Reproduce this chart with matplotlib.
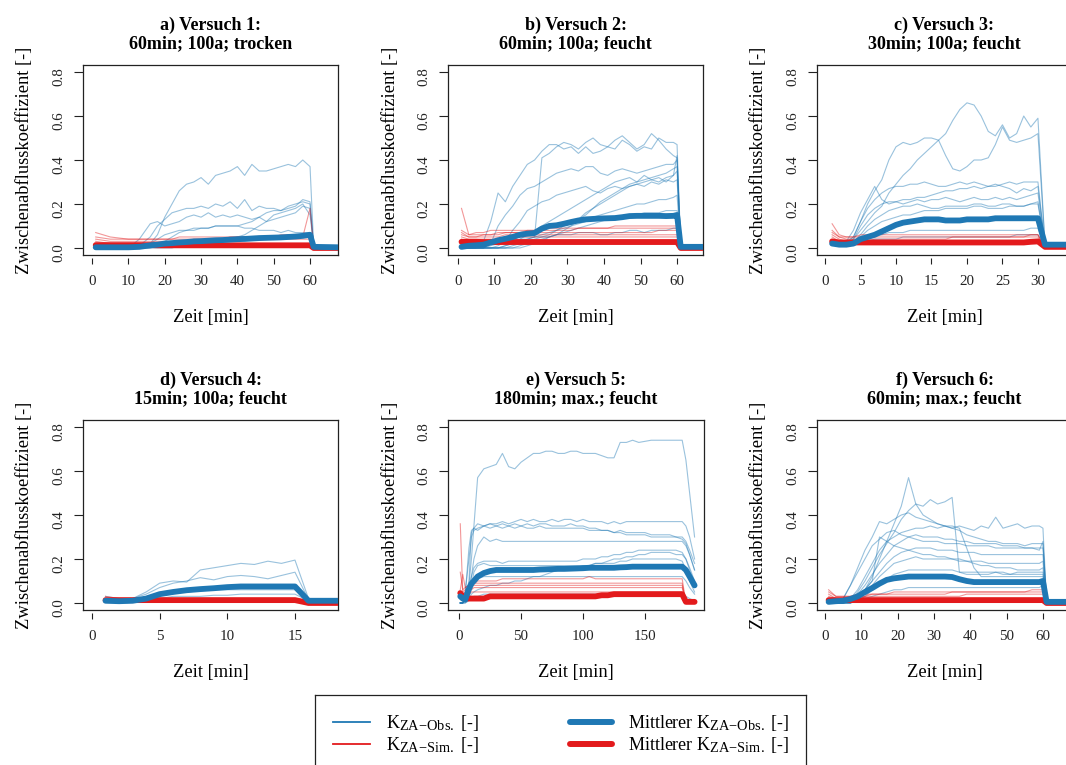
import matplotlib
matplotlib.use('Agg')
import matplotlib.pyplot as plt
from matplotlib.lines import Line2D
try:
    import matplotlib._mathtext as _mt
    _mt.SHRINK_FACTOR = 0.8
except Exception:
    pass

plt.rcParams['font.family'] = ['Liberation Serif', 'DejaVu Serif']
plt.rcParams['mathtext.fontset'] = 'custom'
plt.rcParams['mathtext.rm'] = 'Liberation Serif'
plt.rcParams['mathtext.it'] = 'Liberation Serif:italic'
plt.rcParams['mathtext.bf'] = 'Liberation Serif:bold'

BLUE = '#1F78B4'
RED = '#E31A1C'

# ---------------- data ----------------
titles = ["a) Versuch 1:\n60min; 100a; trocken",
          "b) Versuch 2:\n60min; 100a; feucht",
          "c) Versuch 3:\n30min; 100a; feucht",
          "d) Versuch 4:\n15min; 100a; feucht",
          "e) Versuch 5:\n180min; max.; feucht",
          "f) Versuch 6:\n60min; max.; feucht"]

# Panel a
t_a = [1, 5, 10, 13, 16, 18, 20, 22, 24, 26, 28, 30, 32, 34, 36, 38, 40, 42, 44, 46, 48, 50, 52, 54, 56, 58, 60, 61, 68]
obs_a = [
    [0.00,0.00,0.00,0.00,0.02,0.06,0.14,0.20,0.26,0.29,0.30,0.32,0.29,0.33,0.34,0.35,0.37,0.33,0.38,0.35,0.35,0.36,0.37,0.38,0.37,0.40,0.37,0.01,0.00],
    [0.00,0.00,0.00,0.01,0.05,0.10,0.13,0.16,0.17,0.18,0.18,0.19,0.18,0.20,0.19,0.21,0.18,0.22,0.17,0.19,0.18,0.18,0.17,0.19,0.20,0.21,0.20,0.01,0.00],
    [0.00,0.00,0.00,0.04,0.11,0.12,0.10,0.11,0.12,0.14,0.15,0.14,0.16,0.14,0.15,0.14,0.15,0.14,0.13,0.14,0.12,0.13,0.14,0.15,0.16,0.19,0.18,0.01,0.00],
    [0.00,0.00,0.00,0.00,0.00,0.01,0.03,0.05,0.07,0.08,0.08,0.09,0.09,0.10,0.10,0.10,0.10,0.11,0.12,0.14,0.16,0.17,0.17,0.18,0.19,0.22,0.21,0.01,0.00],
    [0.00,0.00,0.00,0.00,0.02,0.04,0.06,0.07,0.08,0.08,0.09,0.09,0.09,0.10,0.10,0.10,0.10,0.09,0.09,0.08,0.08,0.08,0.07,0.08,0.07,0.07,0.07,0.01,0.00],
    [0.00,0.00,0.00,0.00,0.00,0.00,0.00,0.00,0.01,0.01,0.02,0.02,0.02,0.03,0.03,0.04,0.05,0.06,0.08,0.10,0.12,0.15,0.16,0.17,0.18,0.20,0.15,0.01,0.00],
    [0.00,0.00,0.00,0.00,0.01,0.01,0.02,0.02,0.02,0.03,0.03,0.03,0.03,0.04,0.04,0.04,0.04,0.04,0.05,0.05,0.05,0.05,0.05,0.06,0.06,0.06,0.06,0.01,0.00],
]
sim_a = [
    [0.07,0.05,0.04,0.04,0.04,0.04,0.04,0.04,0.05,0.05,0.05,0.05,0.05,0.05,0.05,0.05,0.05,0.05,0.05,0.05,0.05,0.05,0.06,0.06,0.06,0.06,0.06,0.00,0.00],
    [0.05,0.04,0.04,0.04,0.04,0.04,0.04,0.04,0.04,0.04,0.04,0.04,0.04,0.04,0.04,0.05,0.05,0.05,0.05,0.05,0.05,0.05,0.05,0.05,0.05,0.05,0.18,0.00,0.00],
    [0.04,0.03,0.03,0.03,0.03,0.03,0.03,0.03,0.03,0.03,0.04,0.04,0.04,0.04,0.04,0.04,0.04,0.04,0.04,0.04,0.04,0.04,0.04,0.04,0.04,0.04,0.04,0.00,0.00],
    [0.03,0.02,0.02,0.02,0.02,0.02,0.02,0.02,0.02,0.02,0.02,0.02,0.02,0.02,0.02,0.02,0.02,0.02,0.02,0.02,0.02,0.02,0.02,0.02,0.02,0.02,0.02,0.00,0.00],
    [0.02,0.01,0.01,0.01,0.01,0.01,0.01,0.01,0.01,0.01,0.01,0.01,0.01,0.01,0.01,0.01,0.01,0.01,0.01,0.01,0.01,0.01,0.01,0.01,0.01,0.01,0.01,0.00,0.00],
]
mobs_a = [0.003,0.003,0.003,0.005,0.012,0.015,0.020,0.022,0.025,0.027,0.030,0.031,0.033,0.035,0.036,0.038,0.040,0.041,0.043,0.045,0.046,0.047,0.048,0.050,0.052,0.055,0.060,0.005,0.003]
msim_a = [0.013,0.013,0.013,0.013,0.013,0.012,0.012,0.012,0.012,0.012,0.012,0.012,0.012,0.012,0.012,0.012,0.012,0.012,0.012,0.012,0.012,0.012,0.012,0.012,0.012,0.012,0.012,0.000,0.000]

# Panel b
t_b = [1, 3, 5, 7, 9, 11, 13, 15, 17, 19, 21, 23, 25, 27, 29, 31, 33, 35, 37, 39, 41, 43, 45, 47, 49, 51, 53, 55, 57, 59, 60, 61, 68]
obs_b = [
    [0,0,0,0.03,0.12,0.25,0.21,0.28,0.33,0.38,0.40,0.44,0.47,0.47,0.45,0.46,0.43,0.46,0.43,0.44,0.46,0.45,0.49,0.47,0.44,0.46,0.45,0.50,0.48,0.48,0.47,0.01,0],
    [0,0,0,0,0.02,0.03,0.04,0.05,0.05,0.05,0.05,0.41,0.43,0.46,0.48,0.47,0.45,0.48,0.50,0.47,0.46,0.49,0.51,0.48,0.45,0.47,0.52,0.49,0.45,0.42,0.41,0.01,0],
    [0,0,0,0,0.02,0.10,0.15,0.19,0.24,0.27,0.28,0.30,0.32,0.34,0.35,0.36,0.35,0.37,0.37,0.34,0.33,0.35,0.36,0.35,0.34,0.35,0.36,0.37,0.38,0.38,0.40,0.01,0],
    [0,0,0,0,0,0.01,0.03,0.08,0.12,0.17,0.19,0.21,0.22,0.24,0.25,0.26,0.27,0.28,0.26,0.25,0.27,0.28,0.27,0.28,0.29,0.28,0.30,0.29,0.31,0.30,0.31,0.01,0],
    [0,0,0,0,0,0,0.01,0.02,0.03,0.04,0.05,0.06,0.07,0.08,0.10,0.11,0.13,0.15,0.18,0.21,0.23,0.25,0.27,0.29,0.30,0.31,0.32,0.33,0.34,0.36,0.37,0.01,0],
    [0,0,0,0,0,0,0,0.01,0.02,0.03,0.04,0.05,0.06,0.08,0.09,0.10,0.11,0.12,0.14,0.15,0.16,0.17,0.18,0.19,0.20,0.20,0.21,0.22,0.22,0.23,0.24,0.01,0],
    [0,0,0,0,0,0,0,0,0.01,0.02,0.03,0.04,0.05,0.06,0.07,0.08,0.09,0.10,0.11,0.12,0.13,0.14,0.14,0.15,0.15,0.16,0.16,0.16,0.17,0.17,0.17,0.01,0],
    [0,0,0,0,0.01,0.02,0.03,0.03,0.04,0.04,0.05,0.05,0.05,0.06,0.06,0.06,0.07,0.07,0.07,0.06,0.06,0.07,0.07,0.08,0.08,0.07,0.08,0.08,0.08,0.09,0.09,0.01,0],
    [0,0,0,0,0,0,0,0,0,0.01,0.02,0.03,0.05,0.06,0.08,0.10,0.13,0.16,0.18,0.20,0.22,0.24,0.26,0.28,0.29,0.30,0.31,0.30,0.32,0.33,0.42,0.01,0],
    [0,0,0,0,0,0,0.01,0.02,0.04,0.06,0.08,0.10,0.12,0.14,0.16,0.18,0.20,0.22,0.24,0.26,0.28,0.30,0.31,0.32,0.30,0.33,0.31,0.32,0.30,0.33,0.35,0.01,0],
]
sim_b = [
    [0.18,0.06,0.07,0.07,0.08,0.08,0.08,0.08,0.08,0.08,0.08,0.09,0.09,0.09,0.09,0.09,0.09,0.09,0.09,0.09,0.09,0.10,0.10,0.10,0.10,0.10,0.10,0.10,0.10,0.10,0.10,0,0],
    [0.08,0.06,0.06,0.06,0.06,0.07,0.07,0.07,0.07,0.07,0.07,0.07,0.07,0.07,0.07,0.07,0.07,0.07,0.07,0.07,0.07,0.07,0.07,0.07,0.07,0.07,0.07,0.08,0.08,0.08,0.08,0,0],
    [0.06,0.05,0.05,0.05,0.05,0.05,0.06,0.06,0.06,0.06,0.06,0.06,0.06,0.06,0.06,0.06,0.06,0.06,0.06,0.06,0.06,0.06,0.06,0.06,0.06,0.06,0.06,0.06,0.06,0.06,0.06,0,0],
    [0.05,0.04,0.04,0.04,0.04,0.04,0.04,0.04,0.05,0.05,0.05,0.05,0.05,0.05,0.05,0.05,0.05,0.05,0.05,0.05,0.05,0.05,0.05,0.05,0.05,0.05,0.05,0.05,0.05,0.05,0.05,0,0],
    [0.04,0.03,0.03,0.03,0.03,0.03,0.03,0.03,0.03,0.03,0.03,0.03,0.03,0.03,0.03,0.03,0.03,0.03,0.03,0.03,0.03,0.03,0.03,0.03,0.03,0.03,0.03,0.03,0.03,0.03,0.03,0,0],
    [0.03,0.02,0.02,0.02,0.02,0.02,0.02,0.02,0.02,0.02,0.02,0.02,0.02,0.02,0.02,0.02,0.02,0.02,0.02,0.02,0.02,0.02,0.02,0.02,0.02,0.02,0.02,0.02,0.02,0.02,0.02,0,0],
    [0.07,0.05,0.05,0.06,0.06,0.06,0.07,0.07,0.07,0.08,0.08,0.08,0.08,0.08,0.08,0.08,0.09,0.09,0.09,0.09,0.09,0.09,0.09,0.09,0.09,0.09,0.09,0.09,0.09,0.09,0.09,0,0],
]
mobs_b = [0.005,0.010,0.012,0.015,0.025,0.035,0.042,0.050,0.060,0.065,0.068,0.088,0.100,0.103,0.110,0.118,0.125,0.130,0.132,0.134,0.135,0.136,0.140,0.145,0.146,0.146,0.146,0.146,0.145,0.146,0.150,0.005,0.005]
msim_b = [0.028,0.028,0.028,0.027,0.027,0.027,0.027,0.027,0.027,0.027,0.027,0.027,0.027,0.027,0.027,0.027,0.027,0.027,0.027,0.027,0.027,0.027,0.027,0.027,0.027,0.027,0.027,0.027,0.027,0.027,0.027,0.000,0.000]

# Panel c
t_c = [1, 2, 3, 4, 5, 6, 7, 8, 9, 10, 11, 12, 13, 14, 15, 16, 17, 18, 19, 20, 21, 22, 23, 24, 25, 26, 27, 28, 29, 30, 31, 36]
obs_c = [
    [0.03,0.02,0.02,0.05,0.12,0.20,0.26,0.31,0.40,0.46,0.48,0.47,0.48,0.50,0.50,0.49,0.42,0.36,0.35,0.37,0.40,0.40,0.41,0.47,0.55,0.49,0.48,0.49,0.50,0.52,0.01,0.01],
    [0.02,0.02,0.02,0.04,0.08,0.12,0.16,0.19,0.25,0.29,0.33,0.36,0.40,0.43,0.46,0.49,0.52,0.58,0.63,0.66,0.65,0.60,0.53,0.51,0.56,0.50,0.52,0.60,0.55,0.59,0.01,0.01],
    [0.02,0.02,0.03,0.05,0.12,0.18,0.22,0.25,0.27,0.28,0.28,0.29,0.29,0.30,0.29,0.28,0.28,0.29,0.30,0.29,0.30,0.29,0.28,0.28,0.29,0.30,0.29,0.30,0.30,0.30,0.01,0.01],
    [0.02,0.02,0.02,0.04,0.10,0.15,0.18,0.20,0.21,0.21,0.22,0.22,0.23,0.23,0.24,0.25,0.26,0.26,0.27,0.27,0.28,0.27,0.28,0.29,0.28,0.27,0.25,0.27,0.26,0.28,0.01,0.01],
    [0.03,0.02,0.03,0.08,0.16,0.22,0.28,0.22,0.20,0.21,0.20,0.21,0.22,0.21,0.22,0.22,0.23,0.22,0.21,0.22,0.23,0.22,0.22,0.23,0.22,0.23,0.22,0.23,0.24,0.25,0.01,0.01],
    [0.02,0.02,0.02,0.03,0.06,0.10,0.13,0.15,0.17,0.18,0.19,0.19,0.20,0.19,0.18,0.18,0.19,0.19,0.19,0.19,0.20,0.20,0.19,0.19,0.20,0.20,0.19,0.19,0.20,0.20,0.01,0.01],
    [0.02,0.02,0.02,0.03,0.05,0.08,0.10,0.12,0.13,0.14,0.15,0.15,0.16,0.17,0.17,0.17,0.18,0.18,0.18,0.18,0.19,0.19,0.18,0.18,0.18,0.19,0.19,0.19,0.20,0.21,0.01,0.01],
    [0.02,0.02,0.02,0.03,0.04,0.05,0.06,0.06,0.07,0.07,0.07,0.08,0.08,0.08,0.08,0.08,0.08,0.08,0.08,0.08,0.08,0.08,0.08,0.08,0.08,0.08,0.08,0.08,0.09,0.09,0.01,0.01],
    [0.02,0.02,0.02,0.02,0.03,0.03,0.04,0.04,0.04,0.04,0.05,0.05,0.05,0.05,0.05,0.05,0.05,0.05,0.05,0.05,0.05,0.05,0.05,0.05,0.05,0.05,0.06,0.06,0.06,0.06,0.01,0.01],
]
sim_c = [
    [0.11,0.06,0.05,0.05,0.05,0.05,0.05,0.05,0.05,0.05,0.05,0.05,0.05,0.05,0.05,0.05,0.05,0.05,0.05,0.05,0.05,0.05,0.05,0.05,0.05,0.05,0.05,0.05,0.06,0.06,0.00,0.00],
    [0.08,0.05,0.04,0.04,0.04,0.04,0.04,0.04,0.04,0.04,0.04,0.04,0.04,0.04,0.04,0.04,0.04,0.05,0.05,0.05,0.05,0.05,0.05,0.05,0.05,0.05,0.05,0.05,0.05,0.05,0.00,0.00],
    [0.06,0.04,0.03,0.03,0.03,0.03,0.03,0.03,0.03,0.03,0.03,0.03,0.03,0.03,0.03,0.03,0.03,0.03,0.03,0.03,0.03,0.03,0.03,0.03,0.03,0.03,0.03,0.03,0.03,0.03,0.00,0.00],
    [0.05,0.03,0.02,0.02,0.02,0.02,0.02,0.02,0.02,0.02,0.02,0.02,0.02,0.02,0.02,0.02,0.02,0.02,0.02,0.02,0.02,0.02,0.02,0.02,0.02,0.02,0.02,0.02,0.02,0.02,0.00,0.00],
    [0.07,0.05,0.05,0.05,0.06,0.06,0.06,0.06,0.06,0.06,0.06,0.06,0.06,0.06,0.06,0.06,0.06,0.06,0.06,0.06,0.06,0.06,0.06,0.06,0.06,0.06,0.06,0.06,0.06,0.06,0.00,0.00],
]
mobs_c = [0.020,0.015,0.015,0.020,0.040,0.050,0.060,0.075,0.090,0.105,0.115,0.120,0.125,0.130,0.130,0.130,0.125,0.125,0.125,0.130,0.130,0.130,0.130,0.135,0.135,0.135,0.135,0.135,0.135,0.135,0.015,0.015]
msim_c = [0.030,0.025,0.025,0.025,0.025,0.025,0.025,0.025,0.025,0.025,0.025,0.025,0.025,0.025,0.025,0.025,0.025,0.025,0.025,0.025,0.025,0.025,0.025,0.025,0.025,0.025,0.025,0.025,0.028,0.030,0.005,0.005]

# Panel d
t_d = [1, 2, 3, 4, 5, 6, 7, 8, 9, 10, 11, 12, 13, 14, 15, 16, 17, 19]
obs_d = [
    [0.03,0.02,0.02,0.05,0.09,0.10,0.095,0.15,0.16,0.17,0.18,0.175,0.19,0.18,0.195,0.02,0.01,0.01],
    [0.01,0.01,0.02,0.04,0.07,0.09,0.10,0.115,0.105,0.12,0.125,0.12,0.11,0.125,0.14,0.015,0.01,0.01],
    [0.01,0.01,0.01,0.02,0.04,0.05,0.05,0.055,0.06,0.06,0.06,0.06,0.06,0.06,0.06,0.01,0.01,0.01],
    [0.01,0.01,0.01,0.01,0.02,0.03,0.03,0.03,0.035,0.035,0.04,0.04,0.04,0.04,0.04,0.01,0.01,0.01],
]
sim_d = [
    [0.03,0.02,0.02,0.02,0.02,0.02,0.02,0.02,0.02,0.02,0.02,0.02,0.02,0.02,0.02,0.00,0.00,0.00],
    [0.02,0.015,0.015,0.015,0.015,0.015,0.015,0.015,0.015,0.015,0.015,0.015,0.015,0.015,0.015,0.00,0.00,0.00],
]
mobs_d = [0.010,0.008,0.010,0.020,0.040,0.050,0.058,0.063,0.067,0.072,0.075,0.075,0.075,0.075,0.075,0.010,0.010,0.010]
msim_d = [0.013,0.013,0.013,0.013,0.013,0.013,0.013,0.013,0.013,0.013,0.013,0.013,0.013,0.013,0.013,0.000,0.000,0.000]

# Panel e
t_e = [1, 3, 5, 8, 10, 12, 15, 20, 25, 30, 35, 40, 45, 50, 55, 60, 65, 70, 75, 80, 85, 90, 95, 100, 105, 110,
       115, 120, 125, 130, 135, 140, 145, 150, 155, 160, 165, 170, 175, 180, 183, 186, 190]
obs_e = [
    [0.00,0.00,0.02,0.08,0.20,0.35,0.57,0.61,0.62,0.63,0.68,0.62,0.61,0.64,0.66,0.68,0.68,0.69,0.69,0.68,0.68,0.69,0.69,0.68,0.68,0.68,0.67,0.66,0.66,0.73,0.73,0.74,0.73,0.735,0.74,0.74,0.74,0.74,0.74,0.74,0.65,0.50,0.30],
    [0,0,0.05,0.20,0.30,0.33,0.34,0.35,0.36,0.36,0.37,0.36,0.37,0.38,0.37,0.38,0.37,0.37,0.38,0.37,0.38,0.38,0.37,0.38,0.37,0.37,0.37,0.36,0.37,0.36,0.37,0.37,0.37,0.37,0.37,0.37,0.37,0.37,0.37,0.37,0.35,0.30,0.20],
    [0,0,0.04,0.25,0.33,0.34,0.36,0.35,0.36,0.35,0.36,0.35,0.36,0.35,0.36,0.35,0.36,0.36,0.35,0.35,0.35,0.36,0.35,0.35,0.34,0.34,0.33,0.33,0.32,0.32,0.31,0.31,0.31,0.31,0.30,0.30,0.30,0.30,0.30,0.29,0.27,0.22,0.15],
    [0,0,0.02,0.10,0.32,0.34,0.33,0.35,0.34,0.35,0.34,0.35,0.34,0.35,0.34,0.34,0.35,0.34,0.34,0.34,0.34,0.34,0.34,0.34,0.33,0.33,0.33,0.33,0.32,0.33,0.32,0.32,0.32,0.32,0.31,0.31,0.31,0.31,0.30,0.30,0.28,0.24,0.18],
    [0,0,0.02,0.06,0.12,0.20,0.26,0.30,0.28,0.29,0.28,0.28,0.28,0.28,0.28,0.28,0.28,0.28,0.28,0.28,0.28,0.28,0.28,0.28,0.28,0.28,0.28,0.28,0.28,0.28,0.28,0.28,0.28,0.28,0.28,0.28,0.28,0.28,0.28,0.28,0.26,0.22,0.15],
    [0,0,0.01,0.05,0.12,0.16,0.18,0.19,0.19,0.19,0.18,0.19,0.19,0.19,0.19,0.19,0.19,0.19,0.19,0.19,0.19,0.19,0.19,0.20,0.20,0.20,0.21,0.21,0.22,0.22,0.23,0.23,0.24,0.24,0.24,0.24,0.24,0.24,0.24,0.23,0.20,0.15,0.08],
    [0,0,0.01,0.03,0.08,0.14,0.17,0.18,0.17,0.17,0.17,0.17,0.17,0.17,0.17,0.17,0.17,0.17,0.17,0.17,0.17,0.17,0.17,0.17,0.17,0.18,0.18,0.18,0.18,0.19,0.19,0.20,0.20,0.20,0.20,0.20,0.20,0.20,0.20,0.19,0.15,0.10,0.05],
    [0,0,0.01,0.03,0.06,0.09,0.11,0.12,0.12,0.12,0.12,0.12,0.12,0.12,0.12,0.12,0.12,0.12,0.12,0.12,0.12,0.12,0.12,0.12,0.12,0.12,0.12,0.12,0.12,0.12,0.12,0.12,0.12,0.12,0.12,0.12,0.12,0.12,0.12,0.12,0.10,0.07,0.04],
    [0,0,0,0.02,0.04,0.05,0.06,0.07,0.08,0.08,0.09,0.09,0.10,0.10,0.11,0.12,0.12,0.13,0.14,0.15,0.15,0.16,0.16,0.17,0.17,0.18,0.18,0.19,0.20,0.20,0.21,0.21,0.22,0.22,0.23,0.23,0.23,0.23,0.22,0.22,0.20,0.16,0.10],
    [0,0,0,0.01,0.02,0.03,0.03,0.04,0.04,0.04,0.04,0.04,0.04,0.04,0.04,0.04,0.04,0.04,0.04,0.04,0.04,0.04,0.04,0.04,0.04,0.04,0.04,0.04,0.04,0.04,0.04,0.04,0.04,0.04,0.04,0.04,0.04,0.04,0.04,0.04,0.03,0.02,0.01],
]
sim_e = [
    [0.36,0.05,0.06,0.07,0.08,0.09,0.10,0.10,0.10,0.10,0.11,0.11,0.11,0.11,0.11,0.11,0.11,0.11,0.11,0.11,0.11,0.11,0.11,0.11,0.12,0.11,0.11,0.11,0.11,0.11,0.11,0.11,0.11,0.11,0.11,0.11,0.11,0.11,0.11,0.11,0.00,0.00,0.00],
    [0.14,0.06,0.07,0.08,0.08,0.09,0.09,0.09,0.09,0.09,0.09,0.09,0.09,0.09,0.09,0.09,0.09,0.09,0.09,0.09,0.09,0.09,0.09,0.09,0.09,0.09,0.09,0.09,0.09,0.09,0.09,0.09,0.09,0.09,0.09,0.09,0.09,0.09,0.09,0.09,0.00,0.00,0.00],
    [0.05,0.04,0.05,0.06,0.06,0.07,0.07,0.07,0.07,0.07,0.07,0.07,0.07,0.07,0.07,0.07,0.07,0.07,0.07,0.07,0.07,0.07,0.07,0.07,0.07,0.07,0.07,0.07,0.07,0.07,0.07,0.07,0.07,0.07,0.07,0.07,0.07,0.07,0.07,0.07,0.00,0.00,0.00],
    [0.04,0.04,0.04,0.04,0.05,0.05,0.05,0.05,0.05,0.05,0.05,0.05,0.05,0.05,0.05,0.05,0.05,0.05,0.05,0.05,0.05,0.05,0.05,0.05,0.05,0.05,0.05,0.05,0.05,0.05,0.05,0.05,0.05,0.05,0.05,0.05,0.05,0.05,0.05,0.05,0.00,0.00,0.00],
    [0.03,0.02,0.02,0.02,0.02,0.03,0.03,0.03,0.03,0.03,0.03,0.03,0.03,0.03,0.03,0.03,0.03,0.03,0.03,0.03,0.03,0.03,0.03,0.03,0.03,0.03,0.03,0.03,0.03,0.03,0.03,0.03,0.03,0.03,0.03,0.03,0.03,0.03,0.03,0.03,0.00,0.00,0.00],
    [0.06,0.13,0.07,0.08,0.08,0.08,0.08,0.08,0.08,0.08,0.08,0.08,0.08,0.08,0.08,0.08,0.08,0.08,0.08,0.08,0.08,0.08,0.08,0.08,0.08,0.08,0.08,0.08,0.08,0.08,0.08,0.08,0.08,0.08,0.08,0.08,0.08,0.08,0.08,0.08,0.00,0.00,0.00],
]
mobs_e = [0.030,0.020,0.015,0.065,0.088,0.100,0.120,0.136,0.145,0.150,0.150,0.150,0.150,0.150,0.150,0.150,0.152,0.153,0.154,0.155,0.155,0.156,0.157,0.158,0.160,0.160,0.160,0.160,0.160,0.162,0.163,0.165,0.165,0.165,0.165,0.165,0.165,0.165,0.165,0.165,0.150,0.120,0.080]
msim_e = [0.045,0.030,0.020,0.020,0.020,0.020,0.020,0.020,0.030,0.030,0.030,0.030,0.030,0.030,0.030,0.030,0.030,0.030,0.030,0.030,0.030,0.030,0.030,0.030,0.030,0.030,0.035,0.035,0.040,0.040,0.040,0.040,0.040,0.040,0.040,0.040,0.040,0.040,0.040,0.040,0.005,0.005,0.005]

# Panel f
t_f = [1, 3, 5, 7, 9, 11, 13, 15, 17, 19, 21, 23, 25, 27, 29, 31, 33, 35, 37, 39, 41, 43, 45, 47, 49, 51, 53, 55, 57, 59, 60, 61, 68]
obs_f = [
    [0,0,0,0,0.02,0.06,0.12,0.20,0.28,0.36,0.44,0.57,0.45,0.40,0.38,0.36,0.35,0.34,0.33,0.31,0.30,0.29,0.28,0.28,0.27,0.27,0.27,0.26,0.27,0.27,0.27,0.01,0],
    [0,0,0,0.01,0.05,0.10,0.16,0.22,0.27,0.32,0.38,0.42,0.45,0.44,0.47,0.45,0.46,0.48,0.14,0.13,0.13,0.13,0.13,0.14,0.14,0.13,0.14,0.14,0.14,0.14,0.14,0.01,0],
    [0,0,0.02,0.08,0.16,0.24,0.30,0.37,0.36,0.38,0.40,0.41,0.39,0.38,0.37,0.36,0.35,0.35,0.34,0.25,0.16,0.12,0.12,0.12,0.12,0.12,0.12,0.12,0.12,0.12,0.12,0.01,0],
    [0,0,0,0.02,0.06,0.12,0.18,0.24,0.28,0.30,0.32,0.33,0.34,0.34,0.35,0.34,0.35,0.34,0.35,0.34,0.33,0.35,0.34,0.39,0.34,0.35,0.36,0.34,0.35,0.35,0.34,0.01,0],
    [0,0,0,0.01,0.04,0.08,0.13,0.18,0.22,0.26,0.28,0.30,0.31,0.30,0.30,0.30,0.29,0.29,0.28,0.28,0.27,0.27,0.27,0.27,0.26,0.26,0.26,0.25,0.25,0.25,0.25,0.01,0],
    [0,0,0,0.01,0.03,0.06,0.10,0.14,0.18,0.21,0.23,0.24,0.25,0.25,0.25,0.24,0.24,0.24,0.23,0.23,0.23,0.22,0.22,0.22,0.22,0.22,0.22,0.22,0.22,0.22,0.22,0.01,0],
    [0,0,0,0,0.02,0.05,0.08,0.12,0.15,0.18,0.19,0.20,0.21,0.20,0.20,0.20,0.20,0.20,0.19,0.19,0.19,0.19,0.18,0.18,0.18,0.18,0.18,0.18,0.18,0.18,0.19,0.01,0],
    [0,0,0,0,0.02,0.06,0.10,0.30,0.28,0.26,0.25,0.24,0.23,0.22,0.22,0.21,0.21,0.20,0.20,0.19,0.18,0.17,0.17,0.16,0.16,0.16,0.15,0.15,0.15,0.15,0.16,0.01,0],
    [0,0,0,0,0.01,0.03,0.06,0.09,0.11,0.13,0.14,0.15,0.15,0.15,0.15,0.15,0.15,0.15,0.14,0.14,0.14,0.14,0.14,0.14,0.13,0.13,0.13,0.13,0.13,0.13,0.13,0.01,0],
    [0,0,0,0,0.01,0.02,0.03,0.04,0.05,0.06,0.06,0.07,0.07,0.07,0.07,0.07,0.07,0.07,0.07,0.07,0.07,0.07,0.07,0.07,0.07,0.07,0.07,0.07,0.07,0.07,0.08,0.01,0],
    [0,0,0.02,0.08,0.14,0.20,0.26,0.29,0.32,0.33,0.31,0.30,0.29,0.28,0.28,0.28,0.27,0.27,0.27,0.26,0.26,0.26,0.26,0.25,0.25,0.25,0.25,0.25,0.25,0.24,0.28,0.01,0],
]
sim_f = [
    [0.06,0.03,0.03,0.03,0.03,0.03,0.04,0.04,0.04,0.04,0.04,0.04,0.04,0.04,0.04,0.04,0.04,0.05,0.05,0.05,0.05,0.05,0.05,0.05,0.05,0.05,0.05,0.05,0.06,0.06,0.06,0,0],
    [0.04,0.02,0.02,0.03,0.03,0.03,0.03,0.03,0.03,0.03,0.03,0.03,0.03,0.03,0.03,0.03,0.03,0.03,0.03,0.04,0.04,0.04,0.04,0.04,0.04,0.04,0.04,0.04,0.04,0.04,0.04,0,0],
    [0.03,0.02,0.02,0.02,0.02,0.02,0.02,0.02,0.02,0.02,0.02,0.02,0.02,0.02,0.02,0.02,0.02,0.02,0.02,0.02,0.02,0.02,0.02,0.02,0.02,0.02,0.02,0.02,0.02,0.02,0.02,0,0],
    [0.05,0.03,0.03,0.03,0.04,0.04,0.04,0.04,0.04,0.05,0.05,0.05,0.05,0.05,0.05,0.05,0.05,0.05,0.05,0.05,0.05,0.05,0.05,0.05,0.05,0.05,0.05,0.05,0.05,0.05,0.05,0,0],
]
mobs_f = [0.005,0.008,0.010,0.018,0.030,0.050,0.068,0.088,0.105,0.112,0.116,0.120,0.120,0.120,0.120,0.120,0.120,0.118,0.108,0.100,0.095,0.095,0.095,0.095,0.095,0.095,0.095,0.095,0.095,0.095,0.100,0.005,0.005]
msim_f = [0.013,0.013,0.013,0.013,0.013,0.013,0.013,0.013,0.013,0.013,0.013,0.013,0.013,0.013,0.013,0.013,0.013,0.013,0.013,0.013,0.013,0.013,0.013,0.013,0.013,0.013,0.013,0.013,0.013,0.013,0.013,0.000,0.000]

x_ticks = [[0, 10, 20, 30, 40, 50, 60], [0, 10, 20, 30, 40, 50, 60], [0, 5, 10, 15, 20, 25, 30],
           [0, 5, 10, 15], [0, 50, 100, 150], [0, 10, 20, 30, 40, 50, 60]]
y_ticks = [0.0, 0.2, 0.4, 0.6, 0.8]
y_ticklabels = ["0.0", "0.2", "0.4", "0.6", "0.8"]
x_label = "Zeit [min]"
y_label = "Zwischenabflusskoeffizient [-]"
legend_labels = [r"K$_{\mathregular{ZA{-}Obs.}}$ [-]",
                 r"K$_{\mathregular{ZA{-}Sim.}}$ [-]",
                 r"Mittlerer K$_{\mathregular{ZA{-}Obs.}}$ [-]",
                 r"Mittlerer K$_{\mathregular{ZA{-}Sim.}}$ [-]"]

# ---------------- layout ----------------
W, H = 1066, 765
fig = plt.figure(figsize=(W / 100, H / 100), dpi=100)


def px_axes(x0, y0, x1, y1):
    return fig.add_axes([x0 / W, 1 - y1 / H, (x1 - x0) / W, (y1 - y0) / H])


boxes = [(83, 65, 338, 255), (448, 65, 703, 255), (817, 65, 1072, 255),
         (83, 420, 338, 610), (448, 420, 704, 610), (817, 420, 1072, 610)]
xlims = [(-2.5, 67.7), (-2.7, 67.1), (-1.13, 34.8), (-0.665, 18.18), (-8.9, 197.6), (-2.2, 68.0)]

panels = [(t_a, obs_a, sim_a, mobs_a, msim_a), (t_b, obs_b, sim_b, mobs_b, msim_b),
          (t_c, obs_c, sim_c, mobs_c, msim_c), (t_d, obs_d, sim_d, mobs_d, msim_d),
          (t_e, obs_e, sim_e, mobs_e, msim_e), (t_f, obs_f, sim_f, mobs_f, msim_f)]

FS_LAB = 13.3
FS_TICK = 10.8
FS_TITLE = 13
INK = '#222222'
for i, (t, obs, sim, mobs, msim) in enumerate(panels):
    x0, y0, x1, y1 = boxes[i]
    ax = px_axes(x0, y0, x1, y1)
    hpx = y1 - y0
    wpx = x1 - x0
    for s in obs:
        ax.plot(t, s, color=BLUE, lw=0.8, alpha=0.45, zorder=1)
    for s in sim:
        ax.plot(t, s, color=RED, lw=0.8, alpha=0.45, zorder=2)
    ax.plot(t, msim, color=RED, lw=4.2, zorder=3, solid_capstyle='round')
    ax.plot(t, mobs, color=BLUE, lw=4.2, zorder=4, solid_capstyle='round')
    ax.set_xlim(*xlims[i])
    ax.set_ylim(-0.032, 0.832)
    # y axis on the box
    ax.set_yticks(y_ticks)
    ax.set_yticklabels(y_ticklabels)
    ax.tick_params(axis='y', direction='out', length=6.5, width=0.8, labelsize=FS_TICK,
                   colors=INK, labelrotation=90, pad=6.5)
    # x axis: ticks drawn slightly below the box
    ax.tick_params(axis='x', bottom=False, labelbottom=False)
    sec = ax.secondary_xaxis(-3 / hpx)
    sec.set_xticks(x_ticks[i])
    sec.set_xticklabels([str(v) for v in x_ticks[i]])
    sec.spines['bottom'].set_visible(False)
    sec.tick_params(axis='x', direction='out', length=4.4, width=0.8, labelsize=FS_TICK,
                    colors=INK, pad=7.5)
    for sp in ax.spines.values():
        sp.set_linewidth(0.9)
        sp.set_color(INK)
    ax.set_xlabel(x_label, fontsize=FS_LAB)
    ax.xaxis.set_label_coords(0.5, -63 / hpx)
    ax.xaxis.label.set_va('center')
    ax.set_ylabel(y_label, fontsize=FS_LAB)
    ax.yaxis.set_label_coords(-58 / wpx, 0.5)
    ax.yaxis.label.set_va('center')
    ax.text(0.5, 1 + 31 / hpx, titles[i], transform=ax.transAxes, ha='center', va='center',
            fontsize=FS_TITLE, fontweight='bold', linespacing=1.1)

# ---------------- legend ----------------
lax = px_axes(315, 695, 806, 790)
lax.set_xticks([])
lax.set_yticks([])
for sp in lax.spines.values():
    sp.set_linewidth(0.9)
    sp.set_color(INK)
lax.patch.set_alpha(0)

h_thin = [Line2D([], [], color=BLUE, lw=1.3), Line2D([], [], color=RED, lw=1.3)]
h_thick = [Line2D([], [], color=BLUE, lw=4.3, solid_capstyle='round'),
           Line2D([], [], color=RED, lw=4.3, solid_capstyle='round')]
leg1 = lax.legend(h_thin, legend_labels[:2], loc='center left', bbox_to_anchor=(333 / W, 1 - 734 / H),
                  bbox_transform=fig.transFigure, frameon=False, fontsize=13, borderpad=0, borderaxespad=0,
                  handlelength=2.05, handletextpad=0.9, labelspacing=0.12)
lax.add_artist(leg1)
leg2 = lax.legend(h_thick, legend_labels[2:], loc='center left', bbox_to_anchor=(570 / W, 1 - 734 / H),
                  bbox_transform=fig.transFigure, frameon=False, fontsize=13, borderpad=0, borderaxespad=0,
                  handlelength=2.3, handletextpad=0.9, labelspacing=0.12)

fig.savefig('out.png', dpi=100)
